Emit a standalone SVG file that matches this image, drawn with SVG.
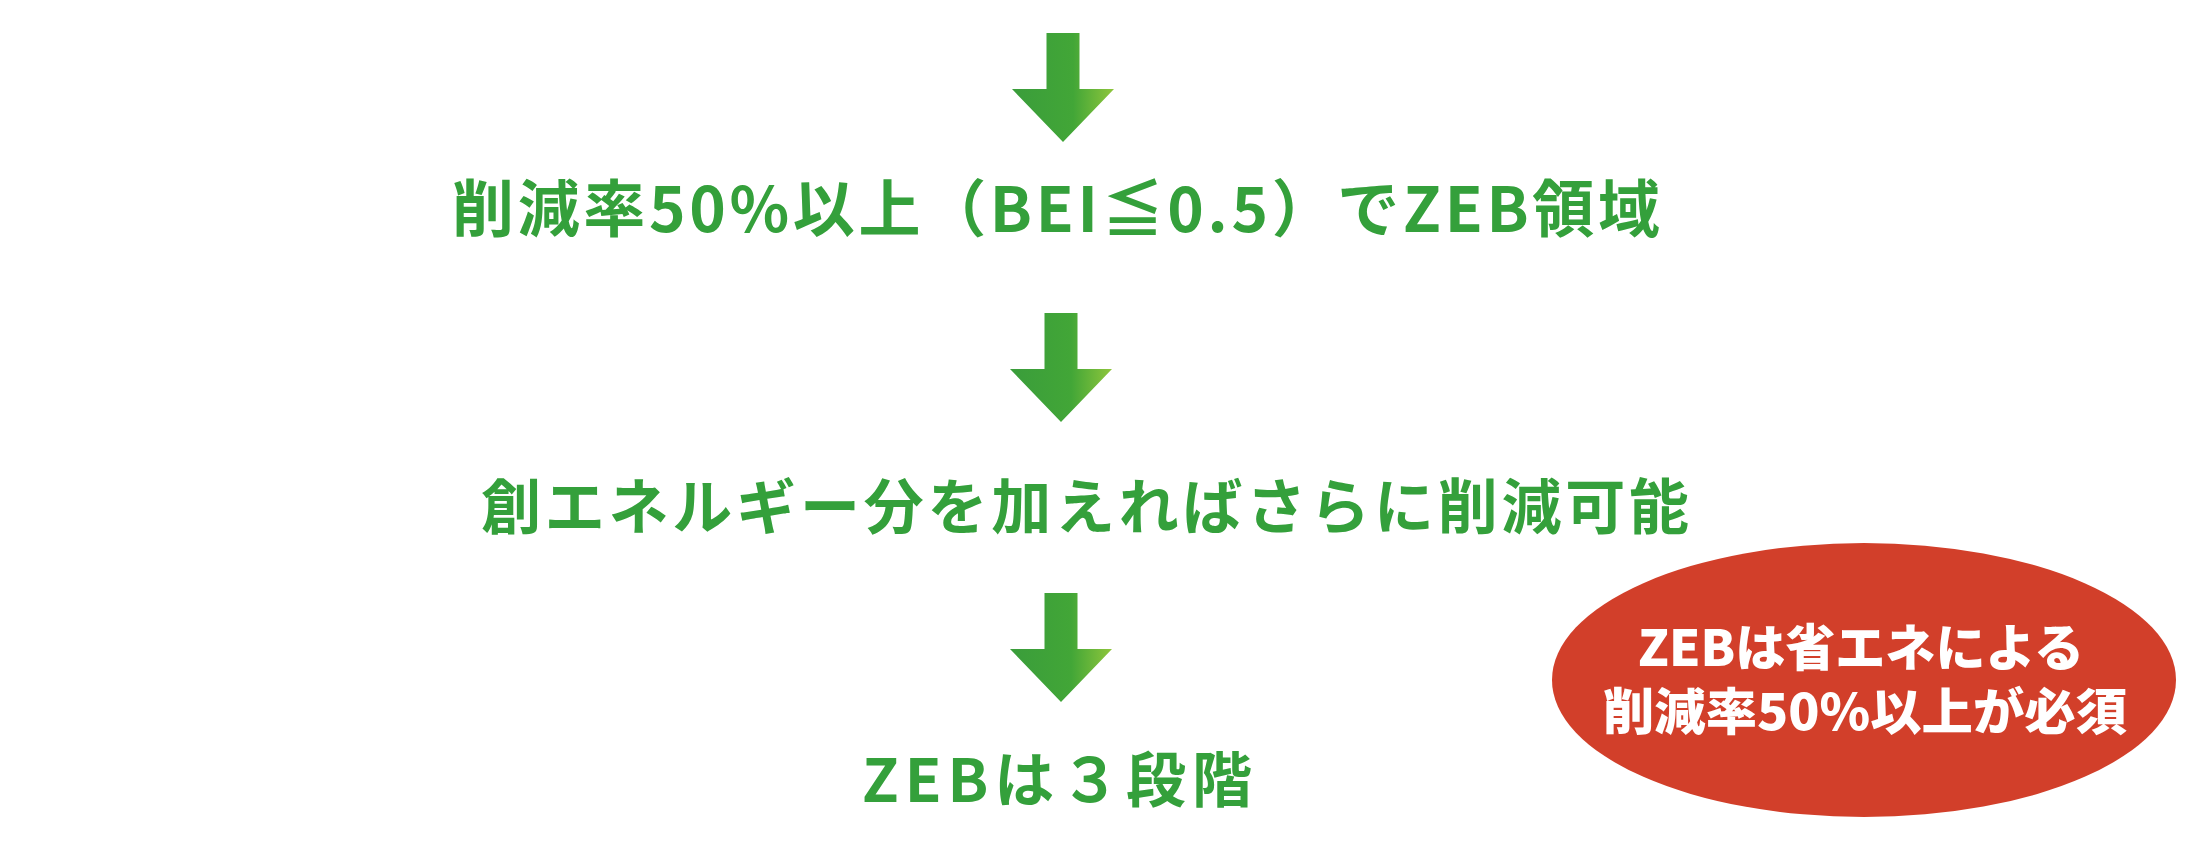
<svg xmlns="http://www.w3.org/2000/svg" width="2193" height="848" viewBox="0 0 2193 848">
  <defs>
    <linearGradient id="arrowGrad" x1="0" y1="0" x2="1" y2="0">
      <stop offset="0" stop-color="#3a9d3b"/>
      <stop offset="0.6" stop-color="#42a637"/>
      <stop offset="1" stop-color="#8fc63c"/>
    </linearGradient>
    <polygon id="arrow" points="-16.5,0 16.5,0 16.5,56 51,56 0,109 -51,56 -16.5,56"/>
  </defs>
  <style>
    .step { font-family: "Noto Sans CJK JP", "Noto Sans", sans-serif; font-weight: 700; fill: #34a03b; }
    .badge { font-family: "Noto Sans CJK JP", "Noto Sans", sans-serif; font-weight: 900; fill: #ffffff; font-size: 50px; text-anchor: middle; }
    .arr { fill: url(#arrowGrad); }
  </style>
  <rect width="2193" height="848" fill="#ffffff"/>

  <g id="connectors">
    <use href="#arrow" class="arr" x="1063" y="33"/>
    <use href="#arrow" class="arr" x="1061" y="313"/>
    <use href="#arrow" class="arr" x="1061" y="593"/>
  </g>

  <g id="node-1">
    <text class="step" x="452" y="232" font-size="62" textLength="1208" lengthAdjust="spacing">削減率50%以上（BEI≦0.5）でZEB領域</text>
  </g>

  <g id="node-2">
    <text class="step" x="481" y="529" font-size="60" textLength="1208" lengthAdjust="spacing">創エネルギー分を加えればさらに削減可能</text>
  </g>

  <g id="node-3">
    <text class="step" x="862" y="802" font-size="60" textLength="390" lengthAdjust="spacing">ZEBは３段階</text>
  </g>

  <g id="badge">
    <ellipse cx="1864" cy="680" rx="312" ry="137" fill="#d23f2a"/>
    <text class="badge" x="1861" y="666" textLength="446" lengthAdjust="spacingAndGlyphs">ZEBは省エネによる</text>
    <text class="badge" x="1865" y="730" textLength="524" lengthAdjust="spacingAndGlyphs">削減率50%以上が必須</text>
  </g>
</svg>
